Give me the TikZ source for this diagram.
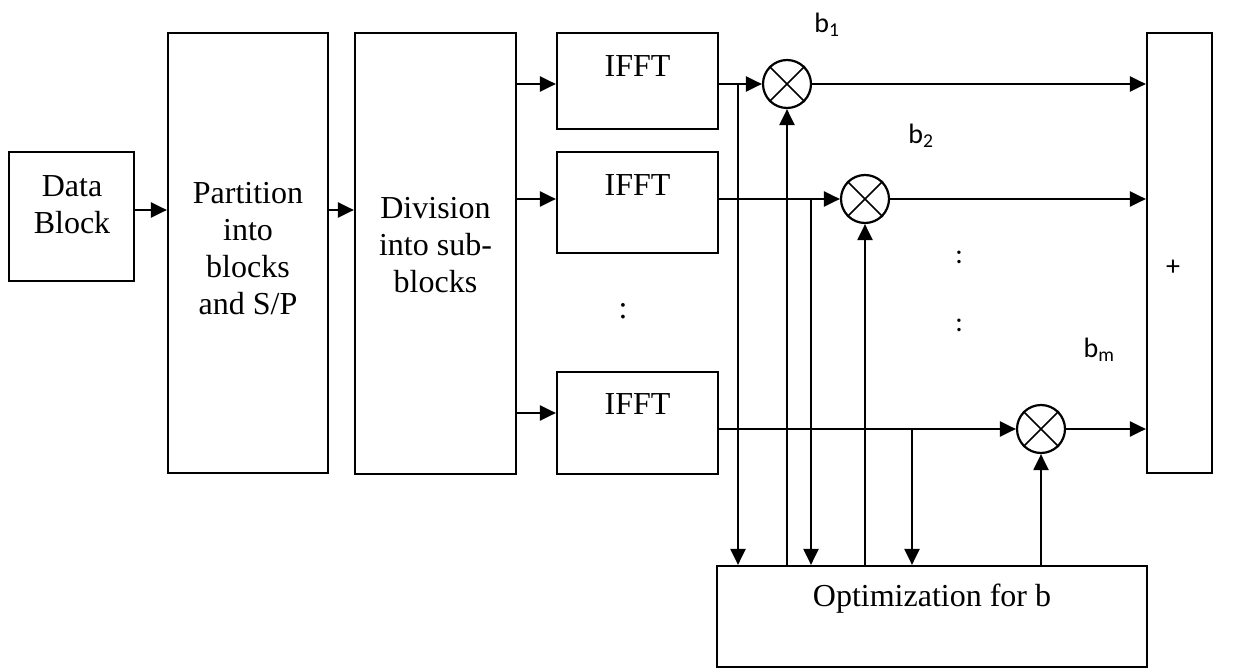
\documentclass[tikz,border=0pt]{standalone}
\usepackage{fontspec}
\setmainfont{Liberation Serif}
\newfontfamily\lblfont{Carlito}
\usetikzlibrary{arrows.meta}
\begin{document}
\begin{tikzpicture}[x=1pt,y=-1pt,line width=2.2pt,
  blk/.style={draw,rectangle,inner sep=0pt},
  txt/.style={font=\fontsize{32}{37}\selectfont,align=center,inner sep=0pt},
  lbl/.style={font=\lblfont\fontsize{28}{32}\selectfont,inner sep=0pt},
  mult/.style={draw,circle,minimum size=48pt,inner sep=0pt},
  arr/.style={-{Triangle[length=16pt,width=15pt]}}]
\useasboundingbox (0,0) rectangle (1251,668);

% blocks
\node[blk,minimum width=125pt,minimum height=129pt] (data) at (71.5,216.5) {};
\node[blk,minimum width=160pt,minimum height=440pt] (part) at (248,253) {};
\node[blk,minimum width=161pt,minimum height=441pt] (div) at (435.5,253.5) {};
\node[blk,minimum width=161pt,minimum height=96pt] (f1) at (637.5,81) {};
\node[blk,minimum width=161pt,minimum height=101pt] (f2) at (637.5,202.5) {};
\node[blk,minimum width=161pt,minimum height=102pt] (f3) at (637.5,423) {};
\node[blk,minimum width=65pt,minimum height=440pt] (sum) at (1179.5,253) {};
\node[blk,minimum width=430pt,minimum height=101pt] (opt) at (932,616.5) {};

% block texts
\node[txt] (tdata) at (72,205) {Data\\Block};
\node[txt] (tpart) at (248,249) {Partition\\into\\blocks\\and S/P};
\node[txt] (tdiv) at (435.5,245) {Division\\into sub-\\blocks};
\node[txt] (tf1) at (637.5,66) {IFFT};
\node[txt] (tf2) at (637.5,185) {IFFT};
\node[txt] (tf3) at (637.5,404) {IFFT};
\node[txt] (topt) at (932,599) {Optimization for b};
\node[txt] (vdots) at (623,311) {:};

% multipliers
\node[mult] (m1) at (787,84) {};
\node[mult] (m2) at (865,199) {};
\node[mult] (m3) at (1041,429) {};
\foreach \m in {m1,m2,m3}{
  \draw[line width=1.6pt] (\m.north east) -- (\m.south west);
  \draw[line width=1.6pt] (\m.north west) -- (\m.south east);
}

% weight labels and marks
\node[lbl] (b1) at (827,25) {b\textsubscript{1}};
\node[lbl] (b2) at (921,136) {b\textsubscript{2}};
\node[lbl] (bm) at (1099,350) {b\textsubscript{m}};
\node[lbl] (d1) at (959,257) {:};
\node[lbl] (d2) at (959,325) {:};
\node[lbl] (plus) at (1173,268) {+};

% data path
\draw[arr] (data.east |- 0,210) -- (part.west |- 0,210);
\draw[arr] (part.east |- 0,210) -- (div.west |- 0,210);
\draw[arr] (div.east |- 0,84) -- (f1.west |- 0,84);
\draw[arr] (div.east |- 0,199) -- (f2.west |- 0,199);
\draw[arr] (div.east |- 0,413) -- (f3.west |- 0,413);
\draw[arr] (f1.east |- m1) -- (m1.west);
\draw[arr] (f2.east |- m2) -- (m2.west);
\draw[arr] (f3.east |- m3) -- (m3.west);
\draw[arr] (m1.east) -- (sum.west |- m1);
\draw[arr] (m2.east) -- (sum.west |- m2);
\draw[arr] (m3.east) -- (sum.west |- m3);

% taps to the optimizer
\coordinate (t1) at (738,84);
\coordinate (t2) at (811,199);
\coordinate (t3) at (912,429);
\draw[arr] (t1) -- (opt.north -| t1);
\draw[arr] (t2) -- (opt.north -| t2);
\draw[arr] (t3) -- (opt.north -| t3);

% weights from the optimizer
\draw[arr] (opt.north -| m1) -- (m1.south);
\draw[arr] (opt.north -| m2) -- (m2.south);
\draw[arr] (opt.north -| m3) -- (m3.south);
\end{tikzpicture}
\end{document}
